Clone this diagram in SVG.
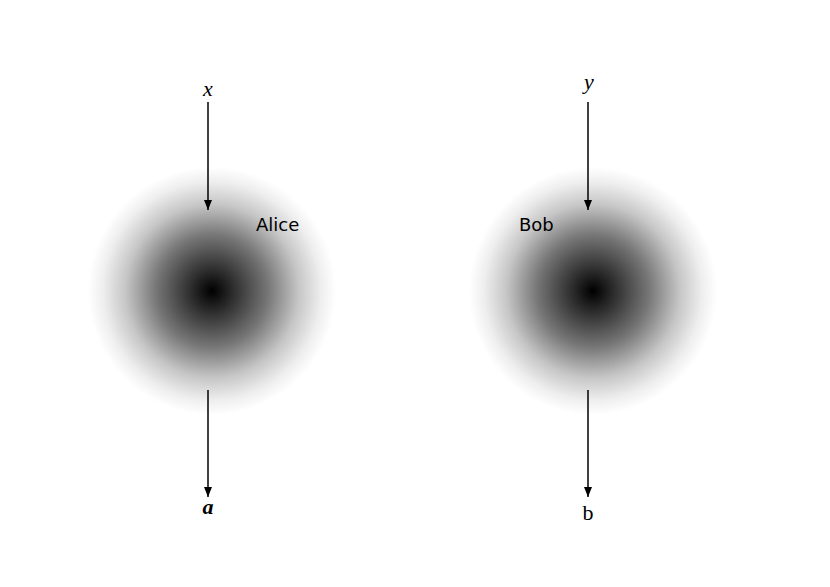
<svg xmlns="http://www.w3.org/2000/svg" width="830" height="587" viewBox="0 0 830 587">
<style>
.lbl{font-family:"DejaVu Sans","Liberation Sans",sans-serif;font-size:18px;fill:#000}
.math{font-family:"Liberation Serif","DejaVu Serif",serif;font-style:italic;font-size:22px;fill:#000}
.conn line{stroke:#000;stroke-width:1.5}
</style>
<defs>
<radialGradient id="blob" cx="0.5" cy="0.5" r="0.5">
<stop offset="0" stop-color="#000"/>
<stop offset="0.2" stop-color="#353535"/>
<stop offset="0.45" stop-color="#767676"/>
<stop offset="0.7" stop-color="#c6c6c6"/>
<stop offset="0.88" stop-color="#eeeeee"/>
<stop offset="1" stop-color="#fff"/>
</radialGradient>
<marker id="ah" viewBox="0 0 10 10" refX="10" refY="5" markerWidth="10" markerHeight="8" markerUnits="userSpaceOnUse" orient="auto" preserveAspectRatio="none">
<path d="M0,0 L10,5 L0,10 z" fill="#000"/>
</marker>
</defs>
<rect width="830" height="587" fill="#fff"/>
<g id="alice">
<circle cx="212" cy="291" r="124" fill="url(#blob)"/>
<text class="lbl" x="256" y="231">Alice</text>
</g>
<g id="bob">
<circle cx="593" cy="291" r="124" fill="url(#blob)"/>
<text class="lbl" x="519" y="231">Bob</text>
</g>
<g id="x"><text class="math" x="208" y="96" text-anchor="middle">x</text></g>
<g id="y"><text class="math" x="589" y="89" text-anchor="middle">y</text></g>
<g id="a"><text class="math" x="208" y="514" text-anchor="middle" font-weight="bold">a</text></g>
<g id="b"><text x="588" y="520" text-anchor="middle" style="font-family:'Liberation Serif',serif;font-size:22px">b</text></g>
<g class="conn" id="connectors">
<line x1="208" y1="102" x2="208" y2="210" marker-end="url(#ah)"/>
<line x1="208" y1="390" x2="208" y2="497" marker-end="url(#ah)"/>
<line x1="588" y1="102" x2="588" y2="210" marker-end="url(#ah)"/>
<line x1="588" y1="390" x2="588" y2="497" marker-end="url(#ah)"/>
</g>
</svg>
